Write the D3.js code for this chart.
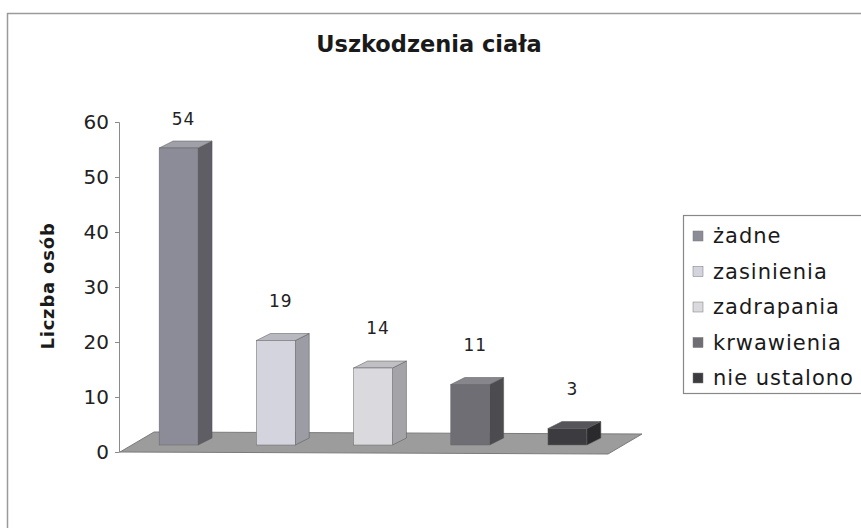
<!DOCTYPE html>
<html>
<head>
<meta charset="utf-8">
<script src="https://cdn.jsdelivr.net/npm/d3@7"></script>
<style>
  body { margin: 0; background: #fff; }
  svg { display: block; font-family: "DejaVu Sans", sans-serif; }
</style>
</head>
<body>
<div id="chart"></div>
<script>
// Uszkodzenia ciała - 3D column chart

const categories = ["żadne", "zasinienia", "zadrapania", "krwawienia", "nie ustalono"];
const values = [54, 19, 14, 11, 3];
const yTicks = [0, 10, 20, 30, 40, 50, 60];

const width = 861, height = 528;

// front / side / top shades per category
const shades = [
    { front: "#8c8c98", side: "#5e5e64", top: "#a0a0a8" },
    { front: "#d4d4de", side: "#9c9ca4", top: "#b8b8c0" },
    { front: "#dadade", side: "#a4a4a8", top: "#c0c0c4" },
    { front: "#6e6e74", side: "#4c4c50", top: "#86868c" },
    { front: "#3c3c40", side: "#2a2a2c", top: "#56565a" }
];

const depth = { dx: 14, dy: -7 };     // bar depth
const floorDepth = { dx: 34, dy: -20 };

const svg = d3.select("#chart").append("svg")
    .attr("width", width)
    .attr("height", height);

// outer frame
svg.append("rect")
    .attr("x", 7.5).attr("y", 13.5)
    .attr("width", 880).attr("height", 540)
    .attr("fill", "none")
    .attr("stroke", "#9a9a9a")
    .attr("stroke-width", 1.5);

// title
svg.append("text")
    .attr("x", 429).attr("y", 52)
    .attr("text-anchor", "middle")
    .style("font-size", "22.5px")
    .style("font-weight", "bold")
    .attr("fill", "#1a1a1a")
    .text("Uszkodzenia ciała");

const y = d3.scaleLinear().domain([0, 60]).range([452, 122]);
const x = d3.scalePoint().domain(categories).range([130, 616]).padding(0.5);
const barW = x.step() * 0.4;

// floor
const fl = 120, fr = 608, fy = y(0);
svg.append("path")
    .attr("d", `M${fl},${fy} L${fr},${fy + 2} L${fr + floorDepth.dx},${fy + 2 + floorDepth.dy} L${fl + floorDepth.dx},${fy + floorDepth.dy} Z`)
    .attr("fill", "#9c9c9c")
    .attr("stroke", "#7a7a7a")
    .attr("stroke-width", 1);

// y axis
const axis = svg.append("g")
    .attr("transform", "translate(119,0)")
    .call(d3.axisLeft(y).tickValues(yTicks).tickSize(4).tickPadding(6));
axis.select(".domain").attr("stroke", "#8a8a8a");
axis.selectAll(".tick line").attr("stroke", "#8a8a8a");
axis.selectAll(".tick text")
    .style("font-size", "20px")
    .style("font-family", "DejaVu Sans, sans-serif")
    .attr("fill", "#222");

// axis title
svg.append("text")
    .attr("transform", "translate(54,286) rotate(-90)")
    .attr("text-anchor", "middle")
    .style("font-size", "18px")
    .style("font-weight", "bold")
    .style("letter-spacing", "0.8px")
    .attr("fill", "#1a1a1a")
    .text("Liczba osób");

// bars
const base = y(0) - 7;
const bars = svg.selectAll(".bar")
    .data(categories.map((c, i) => ({ c, v: values[i], s: shades[i] })))
    .enter().append("g")
    .attr("class", "bar");

bars.each(function (d) {
    const g = d3.select(this);
    const x0 = x(d.c) - barW / 2, x1 = x0 + barW;
    const top = base - (y(0) - y(d.v));
    // side
    g.append("path")
        .attr("d", `M${x1},${base} L${x1 + depth.dx},${base + depth.dy} L${x1 + depth.dx},${top + depth.dy} L${x1},${top} Z`)
        .attr("fill", d.s.side).attr("stroke", "#555").attr("stroke-width", 0.5);
    // top
    g.append("path")
        .attr("d", `M${x0},${top} L${x1},${top} L${x1 + depth.dx},${top + depth.dy} L${x0 + depth.dx},${top + depth.dy} Z`)
        .attr("fill", d.s.top).attr("stroke", "#555").attr("stroke-width", 0.5);
    // front
    g.append("rect")
        .attr("x", x0).attr("y", top)
        .attr("width", barW).attr("height", base - top)
        .attr("fill", d.s.front).attr("stroke", "#666").attr("stroke-width", 0.5);
    // value label
    g.append("text")
        .attr("x", x(d.c) + 5)
        .attr("y", Math.max(top - 34, y(60) + 3))
        .attr("text-anchor", "middle")
        .style("font-size", "17px")
        .style("letter-spacing", "1px")
        .attr("fill", "#222")
        .text(d.v);
});

// legend
const legend = svg.append("g").attr("transform", "translate(683,215)");
legend.append("rect")
    .attr("x", 0.5).attr("y", 0.5)
    .attr("width", 200).attr("height", 178)
    .attr("fill", "#fff")
    .attr("stroke", "#888").attr("stroke-width", 1.2);

const items = legend.selectAll(".item")
    .data(categories)
    .enter().append("g")
    .attr("transform", (d, i) => `translate(10,${21 + i * 35.5})`);

items.append("rect")
    .attr("x", 0).attr("y", -5)
    .attr("width", 10).attr("height", 10)
    .attr("fill", (d, i) => shades[i].front)
    .attr("stroke", "#777").attr("stroke-width", 0.5);

items.append("text")
    .attr("x", 20).attr("y", 7)
    .style("font-size", "21px")
    .style("letter-spacing", "1px")
    .attr("fill", "#1a1a1a")
    .text(d => d);
</script>
</body>
</html>
